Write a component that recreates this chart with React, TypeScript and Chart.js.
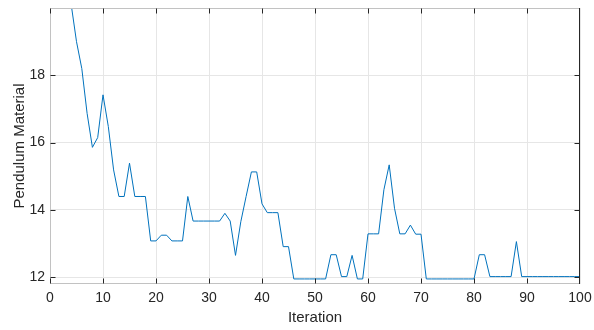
import React, { useEffect, useRef } from "react";
import { Chart, registerables } from "chart.js";

Chart.register(...registerables);

// Objective value per iteration (iterations 1..100)
const values: number[] = [
  25.0, 23.2, 21.6, 20.1, 19.0, 18.2, 16.87, 15.86, 16.15, 17.42,
  16.48, 15.19, 14.4, 14.4, 15.39, 14.4, 14.4, 14.4, 13.08, 13.08,
  13.25, 13.25, 13.08, 13.08, 13.08, 14.4, 13.67, 13.67, 13.67, 13.67,
  13.67, 13.67, 13.9, 13.67, 12.65, 13.65, 14.4, 15.13, 15.13, 14.18,
  13.92, 13.92, 13.92, 12.91, 12.91, 11.95, 11.95, 11.95, 11.95, 11.95,
  11.95, 11.95, 12.67, 12.67, 12.02, 12.02, 12.65, 11.95, 11.95, 13.29,
  13.29, 13.29, 14.6, 15.34, 14.05, 13.29, 13.29, 13.55, 13.28, 13.28,
  11.95, 11.95, 11.95, 11.95, 11.95, 11.95, 11.95, 11.95, 11.95, 11.95,
  12.67, 12.67, 12.02, 12.02, 12.02, 12.02, 12.02, 13.06, 12.02, 12.02,
  12.02, 12.02, 12.02, 12.02, 12.02, 12.02, 12.02, 12.02, 12.02, 12.02,
];
const iterations: number[] = values.map((_, i) => i + 1);
const xTicks: number[] = [0, 10, 20, 30, 40, 50, 60, 70, 80, 90, 100];
const yTicks: number[] = [12, 14, 16, 18];

const FONT = "'Liberation Sans', Arial, Helvetica, sans-serif";
const DARK = "#262626";

const boxPlugin = {
  id: "matlabBox",
  afterDatasetsDraw(chart: any) {
    const { ctx, chartArea, scales } = chart;
    const { left, right, top, bottom } = chartArea;
    const L = Math.round(left) + 0.5;
    const R = Math.round(right) - 0.5;
    const T = Math.round(top) + 0.5;
    const B = Math.round(bottom) - 0.5;
    ctx.save();
    ctx.lineWidth = 1;
    // light edges
    ctx.strokeStyle = "#c2c2c2";
    ctx.beginPath();
    ctx.moveTo(L, B);
    ctx.lineTo(L, T);
    ctx.lineTo(R, T);
    ctx.moveTo(L, B);
    ctx.lineTo(R, B);
    ctx.stroke();
    // dark right edge
    ctx.strokeStyle = DARK;
    ctx.beginPath();
    ctx.moveTo(R, T - 0.5);
    ctx.lineTo(R, B + 0.5);
    ctx.stroke();
    // inward ticks
    const tl = 5;
    ctx.beginPath();
    xTicks.forEach((v) => {
      const px = Math.round(scales.x.getPixelForValue(v)) + 0.5;
      const xx = Math.min(Math.max(px, L), R);
      ctx.moveTo(xx, B);
      ctx.lineTo(xx, B - tl);
      ctx.moveTo(xx, T);
      ctx.lineTo(xx, T + tl);
    });
    yTicks.forEach((v) => {
      const py = Math.round(scales.y.getPixelForValue(v)) + 0.5;
      ctx.moveTo(L, py);
      ctx.lineTo(L + tl, py);
      ctx.moveTo(R, py);
      ctx.lineTo(R - tl, py);
    });
    ctx.stroke();
    ctx.restore();
  },
};

export default function App() {
  const ref = useRef<HTMLCanvasElement | null>(null);
  useEffect(() => {
    document.body.style.margin = "0";
    const canvas = ref.current;
    if (!canvas) return;
    const chart = new Chart(canvas, {
      type: "line",
      data: {
        datasets: [
          {
            data: iterations.map((x, i) => ({ x, y: values[i] })),
            borderColor: "#0072BD",
            borderWidth: 1,
            pointRadius: 0,
            tension: 0,
            fill: false,
          },
        ],
      },
      options: {
        responsive: false,
        animation: false,
        layout: { padding: { top: 8, right: 14, left: 0, bottom: 0 } },
        plugins: { legend: { display: false }, tooltip: { enabled: false } },
        scales: {
          x: {
            type: "linear",
            min: 0,
            max: 100,
            afterBuildTicks: (scale: any) => {
              scale.ticks = xTicks.map((v) => ({ value: v }));
            },
            afterFit: (scale: any) => {
              scale.height = 46;
              scale.paddingLeft = 0;
              scale.paddingRight = 0;
            },
            grid: { color: "#e6e6e6", lineWidth: 1, drawTicks: false },
            border: { display: false },
            ticks: {
              maxRotation: 0,
              autoSkip: false,
              padding: 6,
              color: DARK,
              font: { family: FONT, size: 14 },
            },
            title: {
              display: true,
              text: "Iteration",
              color: DARK,
              font: { family: FONT, size: 15 },
              padding: { top: 0, bottom: 3 },
            },
          },
          y: {
            type: "linear",
            min: 11.8,
            max: 20,
            afterBuildTicks: (scale: any) => {
              scale.ticks = yTicks.map((v) => ({ value: v }));
            },
            afterFit: (scale: any) => {
              scale.width = 50;
              scale.paddingTop = 0;
              scale.paddingBottom = 0;
            },
            grid: { color: "#e6e6e6", lineWidth: 1, drawTicks: false },
            border: { display: false },
            ticks: {
              padding: 5,
              color: DARK,
              font: { family: FONT, size: 14 },
            },
            title: {
              display: true,
              text: "Pendulum Material",
              color: DARK,
              font: { family: FONT, size: 15 },
              padding: { top: 10.5, bottom: 0 },
            },
          },
        },
      },
      plugins: [boxPlugin],
    } as any);
    return () => chart.destroy();
  }, []);
  return (
    <canvas
      ref={ref}
      width={594}
      height={330}
      style={{ display: "block", width: 594, height: 330 }}
    />
  );
}
